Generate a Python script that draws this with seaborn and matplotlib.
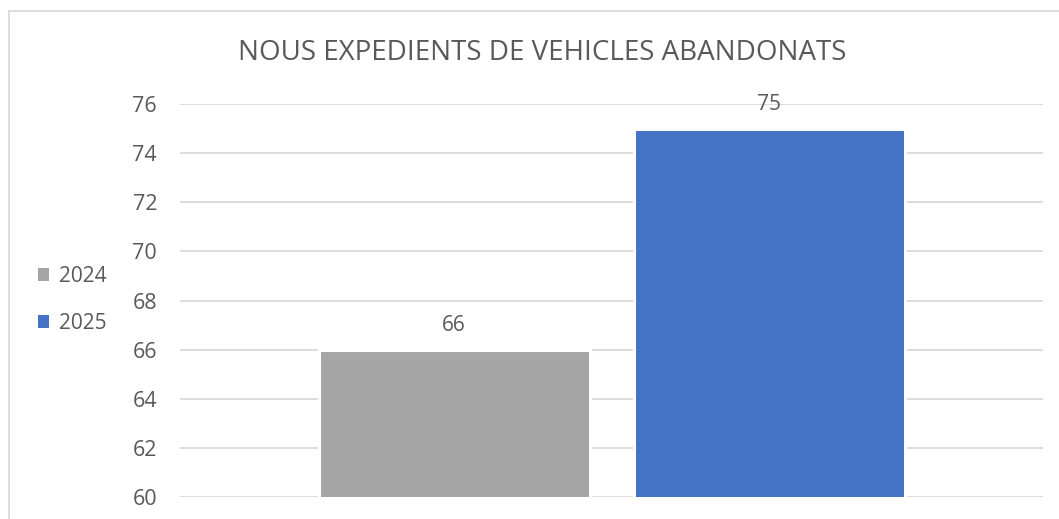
import numpy as np
import pandas as pd
import matplotlib
matplotlib.use('Agg')
import matplotlib.pyplot as plt
from matplotlib.lines import Line2D
from matplotlib.patches import Patch
import seaborn as sns

title = 'NOUS EXPEDIENTS DE VEHICLES ABANDONATS'
years = ['2024', '2025']
values = [66, 75]
colors = ['#A5A5A5', '#4472C4']
textColor = '#595959'

df = pd.DataFrame({'cat': ['x', 'x'], 'year': years, 'value': values})

sns.set_theme(style='white')
plt.rcParams['font.family'] = ['Open Sans', 'DejaVu Sans']

fig = plt.figure(figsize=(10.59, 5.19), dpi=100)
ax = fig.add_axes([0.170, 0.0424, 0.815, 0.7572])

ax.set_axisbelow(True)
ax.yaxis.grid(True, color='#D9D9D9', linewidth=1.3)
sns.barplot(data=df, x='cat', y='value', hue='year', palette=colors,
            saturation=1, width=0.73, gap=0.14, edgecolor='white', linewidth=2.2,
            legend=False, ax=ax)

ax.set_ylim(60, 76)
ax.set_xlim(-0.5, 0.5)
ax.set_yticks(np.arange(60, 77, 2))
ax.set_xticks([])
ax.set_xlabel('')
ax.set_ylabel('')
for s in ax.spines.values():
    s.set_visible(False)
ax.tick_params(axis='y', length=0, pad=16.5, labelsize=15.5, labelcolor=textColor)

for cont in ax.containers:
    ax.bar_label(cont, fmt='%d', padding=10, fontsize=15, color=textColor)

fig.text(0.512, 0.898, title, ha='center', va='center', fontsize=20, color=textColor)

handles = [Patch(facecolor=c, edgecolor='none') for c in colors]
leg = fig.legend(handles, years, loc='center left', bbox_to_anchor=(0.018, 0.422),
                 frameon=False, fontsize=15, handlelength=0.55, handleheight=0.55,
                 handletextpad=0.45, labelspacing=1.25)
for t in leg.get_texts():
    t.set_color(textColor)

# chart frame (top and left edge visible)
fig.add_artist(Line2D([0.0085, 1.0], [0.979, 0.979], color='#D9D9D9', linewidth=1.3,
                      transform=fig.transFigure))
fig.add_artist(Line2D([0.0085, 0.0085], [0.0, 0.979], color='#D9D9D9', linewidth=1.3,
                      transform=fig.transFigure))

fig.savefig('out.png', dpi=100)
